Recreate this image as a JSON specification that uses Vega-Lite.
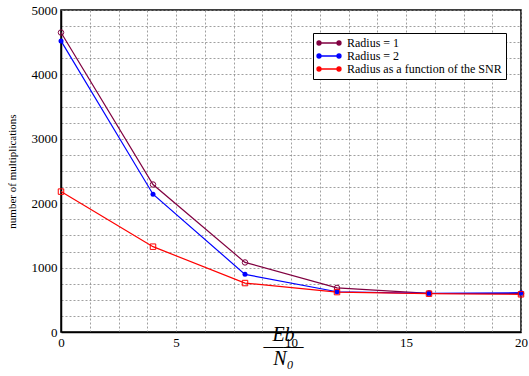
{
  "$schema": "https://vega.github.io/schema/vega-lite/v6.json",
  "width": 460,
  "height": 322,
  "autosize": {"type": "none"},
  "padding": {"left": 61, "top": 10, "right": 8, "bottom": 44},
  "config": {
    "font": "Liberation Serif",
    "view": {"stroke": "black", "strokeWidth": 1.5},
    "legend": {"labelFont": "Liberation Serif", "titleFont": "Liberation Serif"},
    "axis": {
      "labelFont": "Liberation Serif",
      "titleFont": "Liberation Serif",
      "labelColor": "black",
      "titleColor": "black",
      "titleFontWeight": "normal",
      "domainColor": "black",
      "domainWidth": 1.5,
      "ticks": false,
      "grid": true,
      "gridDash": [2, 2],
      "gridColor": "#888888",
      "gridWidth": 0.8,
      "labelOverlap": false,
      "labelFontSize": 13
    }
  },
  "data": {
    "values": [
      {"snr": 0, "mult": 4650, "series": "Radius = 1"},
      {"snr": 4, "mult": 2290, "series": "Radius = 1"},
      {"snr": 8, "mult": 1080, "series": "Radius = 1"},
      {"snr": 12, "mult": 685, "series": "Radius = 1"},
      {"snr": 16, "mult": 600, "series": "Radius = 1"},
      {"snr": 20, "mult": 595, "series": "Radius = 1"},
      {"snr": 0, "mult": 4520, "series": "Radius = 2"},
      {"snr": 4, "mult": 2140, "series": "Radius = 2"},
      {"snr": 8, "mult": 895, "series": "Radius = 2"},
      {"snr": 12, "mult": 625, "series": "Radius = 2"},
      {"snr": 16, "mult": 600, "series": "Radius = 2"},
      {"snr": 20, "mult": 610, "series": "Radius = 2"},
      {"snr": 0, "mult": 2180, "series": "Radius as a function of the SNR"},
      {"snr": 4, "mult": 1325, "series": "Radius as a function of the SNR"},
      {"snr": 8, "mult": 760, "series": "Radius as a function of the SNR"},
      {"snr": 12, "mult": 620, "series": "Radius as a function of the SNR"},
      {"snr": 16, "mult": 595, "series": "Radius as a function of the SNR"},
      {"snr": 20, "mult": 585, "series": "Radius as a function of the SNR"}
    ]
  },
  "encoding": {
    "x": {
      "field": "snr",
      "type": "quantitative",
      "scale": {"domain": [0, 20], "nice": false, "zero": false},
      "axis": {
        "values": [0, 1.25, 2.5, 3.75, 5, 6.25, 7.5, 8.75, 10, 11.25, 12.5, 13.75, 15, 16.25, 17.5, 18.75, 20],
        "labelExpr": "datum.value % 5 === 0 ? format(datum.value, 'd') : ''",
        "labelPadding": 4,
        "labelFlush": false,
        "title": ["Eb", "\u2015\u2015", "N\u2080"],
        "titleFontSize": 20,
        "titleFontStyle": "italic",
        "titleLineHeight": 12,
        "titlePadding": -25,
        "titleX": 222
      }
    },
    "y": {
      "field": "mult",
      "type": "quantitative",
      "scale": {"domain": [0, 5000], "nice": false},
      "axis": {
        "values": [0, 250, 500, 750, 1000, 1250, 1500, 1750, 2000, 2250, 2500, 2750, 3000, 3250, 3500, 3750, 4000, 4250, 4500, 4750, 5000],
        "labelExpr": "datum.value % 1000 === 0 ? format(datum.value, 'd') : ''",
        "labelPadding": 4,
        "labelFlush": false,
        "title": "number of multiplications",
        "titleFontSize": 11,
        "titleX": -44
      }
    },
    "color": {
      "field": "series",
      "type": "nominal",
      "scale": {
        "domain": ["Radius = 1", "Radius = 2", "Radius as a function of the SNR"],
        "range": ["#800040", "#0000ff", "#ff0000"]
      },
      "legend": {
        "title": null,
        "orient": "none",
        "legendX": 252,
        "legendY": 23,
        "strokeColor": "black",
        "fillColor": "white",
        "padding": 4,
        "labelFontSize": 12,
        "labelFont": "Liberation Serif",
        "labelColor": "black",
        "symbolType": "M-2,0H2M-2,0m-0.4,0a0.4,0.4 0 1,0 0.8,0a0.4,0.4 0 1,0 -0.8,0M2,0m-0.4,0a0.4,0.4 0 1,0 0.8,0a0.4,0.4 0 1,0 -0.8,0",
        "symbolSize": 100,
        "symbolStrokeWidth": 1.3,
        "rowPadding": 1,
        "labelOffset": 12,
        "symbolOffset": 6
      }
    }
  },
  "layer": [
    {"mark": {"type": "line", "strokeWidth": 1.2}},
    {
      "transform": [{"filter": "datum.series === 'Radius = 1'"}],
      "mark": {"type": "point", "shape": "circle", "size": 30, "strokeWidth": 1, "opacity": 1, "filled": false}
    },
    {
      "transform": [{"filter": "datum.series === 'Radius = 2'"}],
      "mark": {"type": "point", "shape": "circle", "size": 25, "strokeWidth": 1, "opacity": 1, "filled": true}
    },
    {
      "transform": [{"filter": "datum.series === 'Radius as a function of the SNR'"}],
      "mark": {"type": "point", "shape": "square", "size": 30, "strokeWidth": 1, "opacity": 1, "filled": false}
    }
  ]
}
